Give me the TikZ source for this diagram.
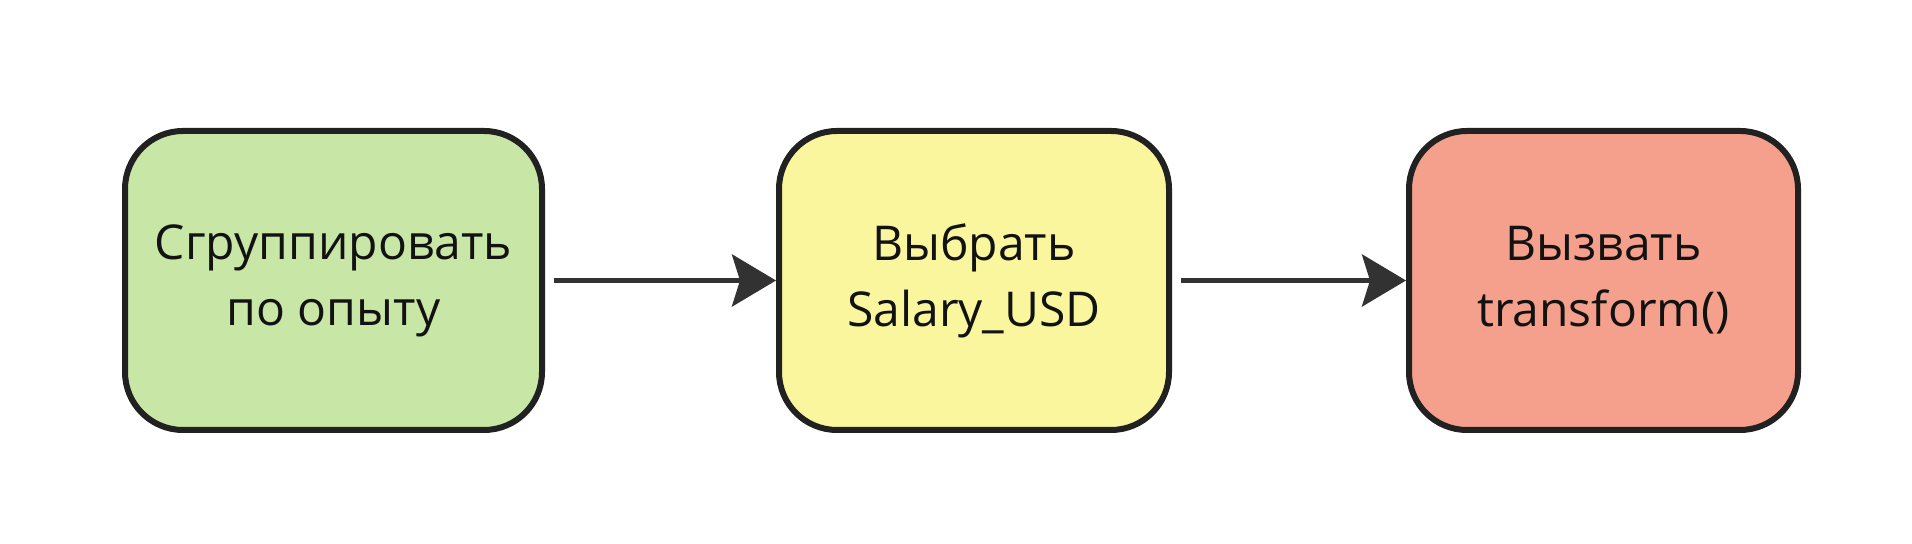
\documentclass[tikz,border=0pt]{standalone}
\usepackage{fontspec}
\setmainfont{Open Sans}
\usetikzlibrary{arrows.meta}
\definecolor{boxGreen}{RGB}{200,230,165}
\definecolor{boxYellow}{RGB}{250,246,158}
\definecolor{boxRed}{RGB}{245,160,140}
\definecolor{lineGray}{RGB}{50,50,50}
\begin{document}
\begin{tikzpicture}
[lineDecorate/.style={-{Stealth[length=22pt,width=26pt,inset=4pt]},line width=2.5pt,draw=lineGray,shorten <=4.5pt},%
  nodeDecorate/.style={shape=rectangle,rounded corners=29pt,draw=black!87,line width=3pt,minimum height=149.5pt,align=center,font=\fontsize{24}{33}\selectfont,text=black!93},
  x=1pt,y=1pt]
\useasboundingbox[fill=white] (0,0) rectangle (956,272);
%% boxes
\foreach \nodename/\x/\boxwidth/\col/\txt in {
  group/166.75/208.5/boxGreen/{Сгруппировать\\по опыту},
  select/487/195/boxYellow/{Выбрать\\Salary\_USD},
  call/801.75/194.5/boxRed/{Вызвать\\transform()}}
{
  \node (\nodename) at (\x,131.75) [nodeDecorate,minimum width=\boxwidth pt,fill=\col] {\txt};
}
%% arrows
\path
\foreach \startnode/\endnode in {group/select, select/call}
{
  (\startnode) edge[lineDecorate] (\endnode)
};
\end{tikzpicture}
\end{document}
